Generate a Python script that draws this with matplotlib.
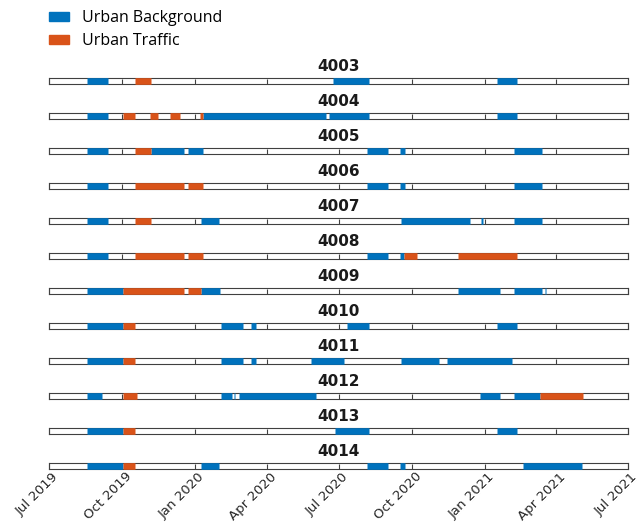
import numpy as np
import matplotlib
matplotlib.use('Agg')
import matplotlib.pyplot as plt
import matplotlib.dates as mdates
import matplotlib.patches as mpatches
from matplotlib.transforms import ScaledTranslation
from datetime import datetime

stations = ['4003', '4004', '4005', '4006', '4007', '4008',
            '4009', '4010', '4011', '4012', '4013', '4014']

# периоды измерений (начало, конец) для каждой станции
background = [
    [('2019-08-18', '2019-09-14'), ('2020-06-23', '2020-08-08'), ('2021-01-17', '2021-02-11')],
    [('2019-08-18', '2019-09-14'), ('2020-01-12', '2020-06-15'), ('2020-06-18', '2020-08-08'),
     ('2021-01-17', '2021-02-11')],
    [('2019-08-18', '2019-09-14'), ('2019-11-07', '2019-12-18'), ('2019-12-23', '2020-01-12'),
     ('2020-08-06', '2020-09-01'), ('2020-09-16', '2020-09-22'), ('2021-02-07', '2021-03-14')],
    [('2019-08-18', '2019-09-14'), ('2020-08-06', '2020-09-01'), ('2020-09-16', '2020-09-22'),
     ('2021-02-07', '2021-03-14')],
    [('2019-08-18', '2019-09-14'), ('2020-01-09', '2020-01-31'), ('2020-09-18', '2020-12-13'),
     ('2020-12-27', '2020-12-30'), ('2021-02-07', '2021-03-14')],
    [('2019-08-18', '2019-09-14'), ('2020-08-06', '2020-09-01'), ('2020-09-16', '2020-09-21')],
    [('2019-08-18', '2019-10-02'), ('2020-01-09', '2020-02-02'), ('2020-11-29', '2021-01-20'),
     ('2021-02-07', '2021-03-14'), ('2021-03-18', '2021-03-20')],
    [('2019-08-18', '2019-10-02'), ('2020-02-03', '2020-03-02'), ('2020-03-12', '2020-03-18'),
     ('2020-07-11', '2020-08-08'), ('2021-01-17', '2021-02-11')],
    [('2019-08-18', '2019-10-02'), ('2020-02-03', '2020-03-02'), ('2020-03-12', '2020-03-18'),
     ('2020-05-27', '2020-07-07'), ('2020-09-18', '2020-11-05'), ('2020-11-15', '2021-02-04')],
    [('2019-08-18', '2019-09-06'), ('2020-02-03', '2020-02-17'), ('2020-02-20', '2020-02-21'),
     ('2020-02-26', '2020-06-02'), ('2020-12-26', '2021-01-21'), ('2021-02-07', '2021-03-12')],
    [('2019-08-18', '2019-10-02'), ('2020-06-26', '2020-08-08'), ('2021-01-17', '2021-02-11')],
    [('2019-08-18', '2019-10-02'), ('2020-01-09', '2020-01-31'), ('2020-08-06', '2020-09-01'),
     ('2020-09-16', '2020-09-22'), ('2021-02-19', '2021-05-04')],
]

traffic = [
    [('2019-10-17', '2019-11-07')],
    [('2019-10-02', '2019-10-18'), ('2019-11-05', '2019-11-16'), ('2019-12-01', '2019-12-14'),
     ('2020-01-08', '2020-01-12')],
    [('2019-10-17', '2019-11-07')],
    [('2019-10-17', '2019-12-18'), ('2019-12-23', '2020-01-12')],
    [('2019-10-17', '2019-11-07')],
    [('2019-10-17', '2019-12-18'), ('2019-12-23', '2020-01-12'), ('2020-09-21', '2020-10-07'),
     ('2020-11-29', '2021-02-11')],
    [('2019-10-03', '2019-12-18'), ('2019-12-23', '2020-01-09')],
    [('2019-10-03', '2019-10-18')],
    [('2019-10-03', '2019-10-18')],
    [('2019-10-03', '2019-10-20'), ('2021-03-12', '2021-05-05')],
    [('2019-10-03', '2019-10-18')],
    [('2019-10-03', '2019-10-18')],
]

blue = '#0072BD'
orange = '#D95319'

W, H = 640, 526
fig = plt.figure(figsize=(W / 100, H / 100), dpi=100)

x0, x1 = 49, 628
strip_h = 5.4
xmin = mdates.date2num(datetime(2019, 7, 1))
xmax = mdates.date2num(datetime(2021, 7, 1))
ticks = [datetime(y, m, 1) for y, m in [(2019, 7), (2019, 10), (2020, 1), (2020, 4), (2020, 7),
                                         (2020, 10), (2021, 1), (2021, 4), (2021, 7)]]

axes = []
for i, name in enumerate(stations):
    cy = 81 + 35 * i
    ax = fig.add_axes([x0 / W, 1 - (cy + strip_h / 2) / H, (x1 - x0) / W, strip_h / H])
    ax.set_xlim(xmin, xmax)
    ax.set_ylim(0, 1)
    ax.set_yticks([])
    ax.set_xticks(mdates.date2num(ticks))
    ax.tick_params(axis='x', direction='in', length=strip_h * 0.72, width=0.8,
                   color='#404040', labelbottom=False)
    for s in ax.spines.values():
        s.set_color('#404040')
        s.set_linewidth(0.8)
    ax.set_title(name, fontsize=11, fontweight='bold', family='DejaVu Sans',
                 color='#1a1a1a', pad=5)

    for series, col in [(background[i], blue), (traffic[i], orange)]:
        for a, b in series:
            xa = mdates.date2num(datetime.fromisoformat(a))
            xb = mdates.date2num(datetime.fromisoformat(b))
            ax.plot([xa, xb], [0.5, 0.5], color=col, lw=4.8, solid_capstyle='butt',
                    clip_on=False, zorder=5)
    axes.append(ax)

# подписи только у нижней оси
last = axes[-1]
last.tick_params(axis='x', labelbottom=True, labelsize=9.5, labelcolor='#262626', pad=1)
last.xaxis.set_major_formatter(mdates.DateFormatter('%b %Y'))
offset = ScaledTranslation(3 / 100, 0, fig.dpi_scale_trans)
for lab in last.get_xticklabels():
    lab.set_rotation(45)
    lab.set_ha('right')
    lab.set_va('top')
    lab.set_rotation_mode('anchor')
    lab.set_transform(lab.get_transform() + offset)

handles = [mpatches.Patch(color=blue, label='Urban Background'),
           mpatches.Patch(color=orange, label='Urban Traffic')]
fig.legend(handles=handles, loc='upper left', bbox_to_anchor=(x0 / W, 1 - 10 / H),
           frameon=False, borderpad=0, borderaxespad=0, handlelength=1.25,
           handleheight=0.55, handletextpad=0.8, labelspacing=0.45,
           prop={'family': 'Open Sans', 'size': 11.5})

plt.savefig('out.png', dpi=100)
